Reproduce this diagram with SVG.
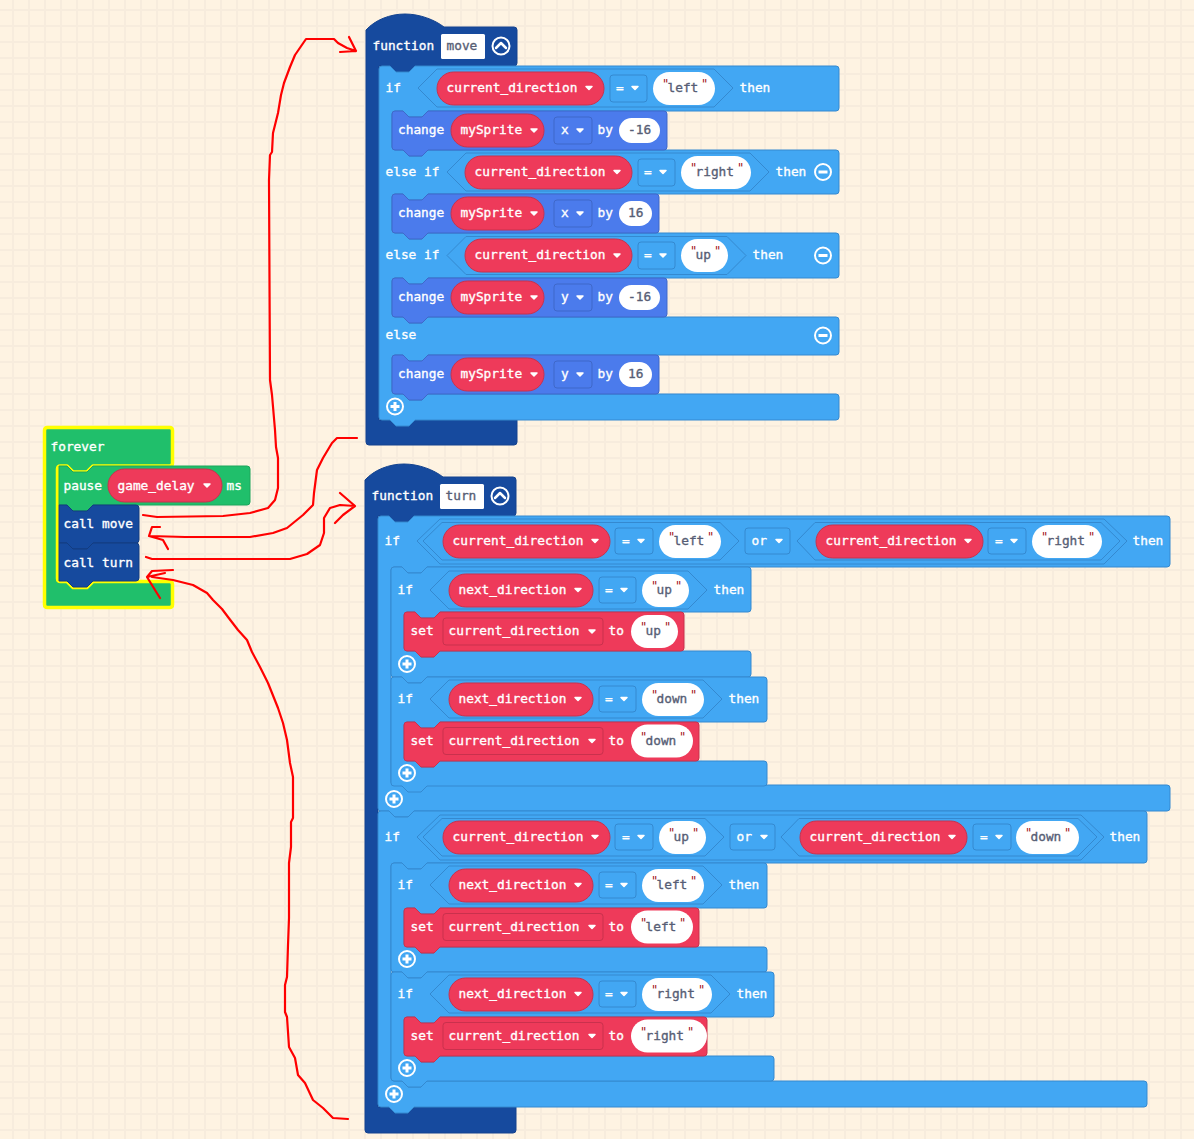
<svg xmlns="http://www.w3.org/2000/svg" width="1194" height="1139" viewBox="0 0 1194 1139">
<defs>
<pattern id="grid" patternUnits="userSpaceOnUse" width="16" height="16"><rect x="12" width="2" height="16" fill="#f7ecdd"/><rect y="9" width="16" height="2" fill="#f7ecdd"/></pattern>
<path id="c" d="M1-2h6l-3 3z" fill="#fff" stroke="#fff" stroke-width="1.500" stroke-linejoin="round"/>
<g id="plus"><circle r="8" fill="none" stroke="#fff" stroke-width="2"/><path d="M-4.500 0H4.500M0-4.500V4.500" stroke="#fff" stroke-width="3" fill="none"/></g>
<g id="minus"><circle r="8" fill="none" stroke="#fff" stroke-width="2"/><path d="M-4.500 0H4.500" stroke="#fff" stroke-width="3" fill="none"/></g>
<g id="up"><circle r="8.500" fill="none" stroke="#fff" stroke-width="2"/><path d="M-5 2L0-3L5 2" stroke="#fff" stroke-width="2.500" fill="none" stroke-linecap="round" stroke-linejoin="round"/></g>
</defs>
<style>
text{font-family:"DejaVu Sans Mono","Liberation Mono",monospace;font-weight:400;font-size:12.8px;fill:#fff;stroke:#fff;stroke-width:.35px;white-space:pre}
text.g{fill:#575e75;stroke:#575e75}
tspan.q{fill:#a31515;stroke:none;font-size:12px}
tspan.t{fill:#575e75;stroke:#575e75}
.fn{fill:#164a9e;stroke:#14438f;stroke-width:1}
.if{fill:#42a7f3;stroke:#3489d0;stroke-width:1}
.chg{fill:#4b7bec;stroke:#3f68c9;stroke-width:1}
.set{fill:#ee3a5a;stroke:#c9314d;stroke-width:1}
.gr{fill:#20bf6b;stroke:#1ca65d;stroke-width:1}
.call{fill:#164a9e;stroke:#123c80;stroke-width:1}
.fv{fill:#20bf6b;stroke:#ffff00;stroke-width:3.500;stroke-linejoin:round}
.v{fill:#ee3a5a;stroke:#c9314d;stroke-width:1}
.s{fill:#fff}
.hx{fill:none;stroke:#3489d0;stroke-width:1}
.di{fill:none;stroke:#3489d0;stroke-width:1}
.dc{fill:none;stroke:#3f68c9;stroke-width:1}
.ds{fill:none;stroke:#c9314d;stroke-width:1}
.red{fill:none;stroke:#ff0000;stroke-width:2.200;stroke-linejoin:round;stroke-linecap:round}
</style>
<rect width="1194" height="1139" fill="#fef3e2"/>
<rect width="1194" height="1139" fill="url(#grid)"/>

<g id="forever">
<path class="fv" d="M44.500 430.500q0-3 3-3H169.500q3 0 3 3V463q0 3-3 3H93l-6 6h-14l-6-6H60.500q-3 0-3 3V578.500q0 3 3 3H67l6 6h14l6-6h76.500q3 0 3 3V604.500q0 3-3 3H47.500q-3 0-3-3Z"/>
<text x="50.500" y="451">forever</text>
</g>
<g id="pause">
<path class="gr" d="M59 466H67l6 6h14l6-6H247q3 0 3 3V502q0 3-3 3H93l-6 6h-14l-6-6H59Z"/>
<text x="63.500" y="490">pause</text>
<rect class="v" x="108" y="469" width="114" height="33" rx="16.500"/>
<text x="117.500" y="490">game_delay</text><use href="#c" x="203" y="486"/>
<text x="226.500" y="490">ms</text>
</g>
<g id="call-move">
<path class="call" d="M59 505H67l6 6h14l6-6H136q3 0 3 3V540q0 3-3 3H93l-6 6h-14l-6-6H59Z"/>
<text x="63.500" y="528">call move</text>
</g>
<g id="call-turn">
<path class="call" d="M59 543H67l6 6h14l6-6H136q3 0 3 3V578q0 3-3 3H93l-6 6h-14l-6-6H59Z"/>
<text x="63.500" y="567">call turn</text>
</g>

<g id="function-move">
<path class="fn" d="M366 30C375 20 390 14 405 14C420 14 435 20 444 27H514q3 0 3 3V63q0 3-3 3H415l-6 6h-13l-6-6H379V420H517V442q0 3-3 3H369q-3 0-3-3Z"/>
<text x="372.500" y="50">function</text>
<rect x="441" y="34" width="44" height="25" rx="1.500" fill="#fff"/>
<text class="g" x="446.500" y="50">move</text>
<use href="#up" x="501" y="46"/>
</g>
<g id="if-move">
<path class="if" d="M379 69q0-3 3-3h8l6 6h13l6-6H836q3 0 3 3V108q0 3-3 3H428l-6 6h-13l-6-6H395q-3 0-3 3V147q0 3 3 3H403l6 6h13l6-6H836q3 0 3 3V191q0 3-3 3H428l-6 6h-13l-6-6H395q-3 0-3 3V230q0 3 3 3H403l6 6h13l6-6H836q3 0 3 3V275q0 3-3 3H428l-6 6h-13l-6-6H395q-3 0-3 3V314q0 3 3 3H403l6 6h13l6-6H836q3 0 3 3V352q0 3-3 3H428l-6 6h-13l-6-6H395q-3 0-3 3V391q0 3 3 3H403l6 6h13l6-6H836q3 0 3 3V417q0 3-3 3H415l-6 6h-13l-6-6H382q-3 0-3-3Z"/>
<text x="385.500" y="92">if</text>
<path class="hx" d="M418 88L437 69H714L733 88L714 107H437Z"/>
<rect class="v" x="437" y="72" width="167" height="33" rx="16.500"/><text x="446.500" y="92">current_direction</text><use href="#c" x="585" y="88.500"/>
<rect class="di" x="610" y="75" width="37" height="27" rx="3"/><text x="616" y="92">=</text><use href="#c" x="631" y="88.500"/>
<rect class="s" x="653" y="72" width="62" height="33" rx="16.500"/><text><tspan class="q" x="662" y="88">"</tspan><tspan class="t" x="667.500" y="92">left</tspan><tspan class="q" x="701" y="88">"</tspan></text>
<text x="739.500" y="92">then</text>
<text x="385.500" y="176">else if</text>
<path class="hx" d="M447 172L466 153H750L769 172L750 191H466Z"/>
<rect class="v" x="465" y="156" width="167" height="33" rx="16.500"/><text x="474.500" y="176">current_direction</text><use href="#c" x="613" y="172.500"/>
<rect class="di" x="638" y="159" width="37" height="27" rx="3"/><text x="644" y="176">=</text><use href="#c" x="659" y="172.500"/>
<rect class="s" x="681" y="156" width="70" height="33" rx="16.500"/><text><tspan class="q" x="690" y="172">"</tspan><tspan class="t" x="695.500" y="176">right</tspan><tspan class="q" x="737" y="172">"</tspan></text>
<text x="775.500" y="176">then</text><use href="#minus" x="823" y="172"/>
<text x="385.500" y="259">else if</text>
<path class="hx" d="M447 255.500L466 236.500H727L746 255.500L727 274.500H466Z"/>
<rect class="v" x="465" y="239" width="167" height="33" rx="16.500"/><text x="474.500" y="259">current_direction</text><use href="#c" x="613" y="256"/>
<rect class="di" x="638" y="242" width="37" height="27" rx="3"/><text x="644" y="259">=</text><use href="#c" x="659" y="256"/>
<rect class="s" x="681" y="239" width="47" height="33" rx="16.500"/><text><tspan class="q" x="690" y="255">"</tspan><tspan class="t" x="695.500" y="259">up</tspan><tspan class="q" x="714" y="255">"</tspan></text>
<text x="752.500" y="259">then</text><use href="#minus" x="823" y="255.500"/>
<text x="385.500" y="339">else</text><use href="#minus" x="823" y="335.500"/>
<use href="#plus" x="395" y="406.500"/>
</g>
<g id="change-1">
<path class="chg" d="M392 114q0-3 3-3h8l6 6h13l6-6H664q3 0 3 3V147q0 3-3 3H428l-6 6h-13l-6-6H395q-3 0-3-3Z"/>
<text x="398" y="134">change</text>
<rect class="v" x="451" y="114" width="93" height="33" rx="16.500"/><text x="460.500" y="134">mySprite</text><use href="#c" x="530" y="131"/>
<rect class="dc" x="554" y="117" width="38" height="27" rx="3"/><text x="561" y="134">x</text><use href="#c" x="576" y="131"/>
<text x="597.500" y="134">by</text>
<rect class="s" x="619" y="118" width="41" height="25" rx="12.500"/><text class="g" x="628" y="134">-16</text>
</g>
<g id="change-2">
<path class="chg" d="M392 197q0-3 3-3h8l6 6h13l6-6H656q3 0 3 3V230q0 3-3 3H428l-6 6h-13l-6-6H395q-3 0-3-3Z"/>
<text x="398" y="217">change</text>
<rect class="v" x="451" y="197" width="93" height="33" rx="16.500"/><text x="460.500" y="217">mySprite</text><use href="#c" x="530" y="214"/>
<rect class="dc" x="554" y="200" width="38" height="27" rx="3"/><text x="561" y="217">x</text><use href="#c" x="576" y="214"/>
<text x="597.500" y="217">by</text>
<rect class="s" x="619" y="201" width="33" height="25" rx="12.500"/><text class="g" x="628" y="217">16</text>
</g>
<g id="change-3">
<path class="chg" d="M392 281q0-3 3-3h8l6 6h13l6-6H664q3 0 3 3V314q0 3-3 3H428l-6 6h-13l-6-6H395q-3 0-3-3Z"/>
<text x="398" y="301">change</text>
<rect class="v" x="451" y="281" width="93" height="33" rx="16.500"/><text x="460.500" y="301">mySprite</text><use href="#c" x="530" y="298"/>
<rect class="dc" x="554" y="284" width="38" height="27" rx="3"/><text x="561" y="301">y</text><use href="#c" x="576" y="298"/>
<text x="597.500" y="301">by</text>
<rect class="s" x="619" y="285" width="41" height="25" rx="12.500"/><text class="g" x="628" y="301">-16</text>
</g>
<g id="change-4">
<path class="chg" d="M392 358q0-3 3-3h8l6 6h13l6-6H656q3 0 3 3V391q0 3-3 3H428l-6 6h-13l-6-6H395q-3 0-3-3Z"/>
<text x="398" y="378">change</text>
<rect class="v" x="451" y="358" width="93" height="33" rx="16.500"/><text x="460.500" y="378">mySprite</text><use href="#c" x="530" y="375"/>
<rect class="dc" x="554" y="361" width="38" height="27" rx="3"/><text x="561" y="378">y</text><use href="#c" x="576" y="375"/>
<text x="597.500" y="378">by</text>
<rect class="s" x="619" y="362" width="33" height="25" rx="12.500"/><text class="g" x="628" y="378">16</text>
</g>

<g id="function-turn">
<path class="fn" d="M365 480C374 470 389 464 404 464C419 464 434 470 443 477H513q3 0 3 3V513q0 3-3 3H414l-6 6h-13l-6-6H378V1107H516V1130q0 3-3 3H368q-3 0-3-3Z"/>
<text x="371.500" y="500">function</text>
<rect x="440" y="484" width="44" height="25" rx="1.500" fill="#fff"/>
<text class="g" x="445.500" y="500">turn</text>
<use href="#up" x="500" y="496"/>
</g>

<g id="if-lr">
<path class="if" d="M378 519q0-3 3-3h8l6 6h13l6-6H1167q3 0 3 3V564q0 3-3 3H427l-6 6h-13l-6-6H394q-3 0-3 3V782q0 3 3 3H402l6 6h13l6-6H1167q3 0 3 3V808q0 3-3 3H414l-6 6h-13l-6-6H381q-3 0-3-3Z"/>
<text x="384.500" y="545">if</text>
<path class="hx" d="M417 541L440 519H1104L1127 541L1104 564H440Z"/>
<path class="hx" d="M423 541L442 522.500H720L739 541L720 560H442Z"/>
<path class="hx" d="M797 541L815 522.500H1101L1120 541L1101 560H815Z"/>
<rect class="v" x="443" y="525" width="167" height="33" rx="16.500"/><text x="452.500" y="545">current_direction</text><use href="#c" x="591" y="541.500"/>
<rect class="di" x="615" y="528" width="38" height="26" rx="3"/><text x="622" y="545">=</text><use href="#c" x="637" y="541.500"/>
<rect class="s" x="659" y="525" width="62" height="33" rx="16.500"/><text><tspan class="q" x="668" y="541">"</tspan><tspan class="t" x="673.500" y="545">left</tspan><tspan class="q" x="707" y="541">"</tspan></text>
<rect class="di" x="745" y="528" width="45" height="26" rx="3"/><text x="751.500" y="545">or</text><use href="#c" x="775" y="541.500"/>
<rect class="v" x="816" y="525" width="167" height="33" rx="16.500"/><text x="825.500" y="545">current_direction</text><use href="#c" x="964" y="541.500"/>
<rect class="di" x="988" y="528" width="38" height="26" rx="3"/><text x="995" y="545">=</text><use href="#c" x="1010" y="541.500"/>
<rect class="s" x="1032" y="525" width="70" height="33" rx="16.500"/><text><tspan class="q" x="1041" y="541">"</tspan><tspan class="t" x="1046.500" y="545">right</tspan><tspan class="q" x="1088" y="541">"</tspan></text>
<text x="1132.500" y="545">then</text>
<use href="#plus" x="394" y="799"/>
</g>
<g id="if-up">
<path class="if" d="M391 570q0-3 3-3h8l6 6h13l6-6H748q3 0 3 3V609q0 3-3 3H440l-6 6h-13l-6-6H407q-3 0-3 3V648q0 3 3 3H415l6 6h13l6-6H748q3 0 3 3V674q0 3-3 3H427l-6 6h-13l-6-6H394q-3 0-3-3Z"/>
<text x="397.500" y="594">if</text>
<path class="hx" d="M430 590L449 571H688L707 590L688 609H449Z"/>
<rect class="v" x="449" y="574" width="144" height="33" rx="16.500"/><text x="458.500" y="594">next_direction</text><use href="#c" x="574" y="590.500"/>
<rect class="di" x="599" y="577" width="37" height="26" rx="3"/><text x="605" y="594">=</text><use href="#c" x="620" y="590.500"/>
<rect class="s" x="642" y="574" width="47" height="33" rx="16.500"/><text><tspan class="q" x="651" y="590">"</tspan><tspan class="t" x="656.500" y="594">up</tspan><tspan class="q" x="675" y="590">"</tspan></text>
<text x="713.500" y="594">then</text>
<use href="#plus" x="407" y="664"/>
</g>
<g id="set-up">
<path class="set" d="M404 615q0-3 3-3h8l6 6h13l6-6H681q3 0 3 3V648q0 3-3 3H440l-6 6h-13l-6-6H407q-3 0-3-3Z"/>
<text x="410.500" y="635">set</text>
<rect class="ds" x="443" y="618" width="160" height="27" rx="3"/><text x="448.500" y="635">current_direction</text><use href="#c" x="588" y="632"/>
<text x="608.500" y="635">to</text>
<rect class="s" x="631" y="615" width="47" height="33" rx="16.500"/><text><tspan class="q" x="640" y="631">"</tspan><tspan class="t" x="645.500" y="635">up</tspan><tspan class="q" x="664" y="631">"</tspan></text>
</g>
<g id="if-down">
<path class="if" d="M391 680q0-3 3-3h8l6 6h13l6-6H764q3 0 3 3V719q0 3-3 3H440l-6 6h-13l-6-6H407q-3 0-3 3V758q0 3 3 3H415l6 6h13l6-6H764q3 0 3 3V783q0 3-3 3H427l-6 6h-13l-6-6H394q-3 0-3-3Z"/>
<text x="397.500" y="703">if</text>
<path class="hx" d="M430 699L449 680H703L722 699L703 718H449Z"/>
<rect class="v" x="449" y="683" width="144" height="33" rx="16.500"/><text x="458.500" y="703">next_direction</text><use href="#c" x="574" y="699.500"/>
<rect class="di" x="599" y="686" width="37" height="26" rx="3"/><text x="605" y="703">=</text><use href="#c" x="620" y="699.500"/>
<rect class="s" x="642" y="683" width="62" height="33" rx="16.500"/><text><tspan class="q" x="651" y="699">"</tspan><tspan class="t" x="656.500" y="703">down</tspan><tspan class="q" x="690" y="699">"</tspan></text>
<text x="728.500" y="703">then</text>
<use href="#plus" x="407" y="773"/>
</g>
<g id="set-down">
<path class="set" d="M404 725q0-3 3-3h8l6 6h13l6-6H696q3 0 3 3V758q0 3-3 3H440l-6 6h-13l-6-6H407q-3 0-3-3Z"/>
<text x="410.500" y="745">set</text>
<rect class="ds" x="443" y="727.500" width="160" height="27" rx="3"/><text x="448.500" y="745">current_direction</text><use href="#c" x="588" y="741.500"/>
<text x="608.500" y="745">to</text>
<rect class="s" x="631" y="724.500" width="62" height="33" rx="16.500"/><text><tspan class="q" x="640" y="741">"</tspan><tspan class="t" x="645.500" y="745">down</tspan><tspan class="q" x="679" y="741">"</tspan></text>
</g>

<g id="if-ud">
<path class="if" d="M378 814q0-3 3-3h8l6 6h13l6-6H1144q3 0 3 3V860q0 3-3 3H427l-6 6h-13l-6-6H394q-3 0-3 3V1078q0 3 3 3H402l6 6h13l6-6H1144q3 0 3 3V1104q0 3-3 3H414l-6 6h-13l-6-6H381q-3 0-3-3Z"/>
<text x="384.500" y="841">if</text>
<path class="hx" d="M417 837L440 815H1081L1104 837L1081 860H440Z"/>
<path class="hx" d="M423 837L442 818.500H705L724 837L705 856H442Z"/>
<path class="hx" d="M781 837L799 818.500H1078L1097 837L1078 856H799Z"/>
<rect class="v" x="443" y="821" width="167" height="33" rx="16.500"/><text x="452.500" y="841">current_direction</text><use href="#c" x="591" y="837.500"/>
<rect class="di" x="615" y="824" width="38" height="26" rx="3"/><text x="622" y="841">=</text><use href="#c" x="637" y="837.500"/>
<rect class="s" x="659" y="821" width="47" height="33" rx="16.500"/><text><tspan class="q" x="668" y="837">"</tspan><tspan class="t" x="673.500" y="841">up</tspan><tspan class="q" x="692" y="837">"</tspan></text>
<rect class="di" x="730" y="824" width="45" height="26" rx="3"/><text x="736.500" y="841">or</text><use href="#c" x="760" y="837.500"/>
<rect class="v" x="800" y="821" width="167" height="33" rx="16.500"/><text x="809.500" y="841">current_direction</text><use href="#c" x="948" y="837.500"/>
<rect class="di" x="973" y="824" width="38" height="26" rx="3"/><text x="980" y="841">=</text><use href="#c" x="995" y="837.500"/>
<rect class="s" x="1016" y="821" width="63" height="33" rx="16.500"/><text><tspan class="q" x="1025" y="837">"</tspan><tspan class="t" x="1030.500" y="841">down</tspan><tspan class="q" x="1064" y="837">"</tspan></text>
<text x="1109.500" y="841">then</text>
<use href="#plus" x="394" y="1094"/>
</g>
<g id="if-left">
<path class="if" d="M391 866q0-3 3-3h8l6 6h13l6-6H764q3 0 3 3V905q0 3-3 3H440l-6 6h-13l-6-6H407q-3 0-3 3V944q0 3 3 3H415l6 6h13l6-6H764q3 0 3 3V969q0 3-3 3H427l-6 6h-13l-6-6H394q-3 0-3-3Z"/>
<text x="397.500" y="889">if</text>
<path class="hx" d="M430 885L449 866H703L722 885L703 904H449Z"/>
<rect class="v" x="449" y="869" width="144" height="33" rx="16.500"/><text x="458.500" y="889">next_direction</text><use href="#c" x="574" y="885.500"/>
<rect class="di" x="599" y="872" width="37" height="26" rx="3"/><text x="605" y="889">=</text><use href="#c" x="620" y="885.500"/>
<rect class="s" x="642" y="869" width="62" height="33" rx="16.500"/><text><tspan class="q" x="651" y="885">"</tspan><tspan class="t" x="656.500" y="889">left</tspan><tspan class="q" x="690" y="885">"</tspan></text>
<text x="728.500" y="889">then</text>
<use href="#plus" x="407" y="959"/>
</g>
<g id="set-left">
<path class="set" d="M404 911q0-3 3-3h8l6 6h13l6-6H696q3 0 3 3V944q0 3-3 3H440l-6 6h-13l-6-6H407q-3 0-3-3Z"/>
<text x="410.500" y="931">set</text>
<rect class="ds" x="443" y="913.500" width="160" height="27" rx="3"/><text x="448.500" y="931">current_direction</text><use href="#c" x="588" y="927.500"/>
<text x="608.500" y="931">to</text>
<rect class="s" x="631" y="910.500" width="62" height="33" rx="16.500"/><text><tspan class="q" x="640" y="927">"</tspan><tspan class="t" x="645.500" y="931">left</tspan><tspan class="q" x="679" y="927">"</tspan></text>
</g>
<g id="if-right">
<path class="if" d="M391 975q0-3 3-3h8l6 6h13l6-6H771q3 0 3 3V1014q0 3-3 3H440l-6 6h-13l-6-6H407q-3 0-3 3V1053q0 3 3 3H415l6 6h13l6-6H771q3 0 3 3V1078q0 3-3 3H427l-6 6h-13l-6-6H394q-3 0-3-3Z"/>
<text x="397.500" y="998">if</text>
<path class="hx" d="M430 994L449 975H711L730 994L711 1013H449Z"/>
<rect class="v" x="449" y="978" width="144" height="33" rx="16.500"/><text x="458.500" y="998">next_direction</text><use href="#c" x="574" y="994.500"/>
<rect class="di" x="599" y="981" width="37" height="26" rx="3"/><text x="605" y="998">=</text><use href="#c" x="620" y="994.500"/>
<rect class="s" x="642" y="978" width="70" height="33" rx="16.500"/><text><tspan class="q" x="651" y="994">"</tspan><tspan class="t" x="656.500" y="998">right</tspan><tspan class="q" x="698" y="994">"</tspan></text>
<text x="736.500" y="998">then</text>
<use href="#plus" x="407" y="1068"/>
</g>
<g id="set-right">
<path class="set" d="M404 1020q0-3 3-3h8l6 6h13l6-6H704q3 0 3 3V1053q0 3-3 3H440l-6 6h-13l-6-6H407q-3 0-3-3Z"/>
<text x="410.500" y="1040">set</text>
<rect class="ds" x="443" y="1022.500" width="160" height="27" rx="3"/><text x="448.500" y="1040">current_direction</text><use href="#c" x="588" y="1036.500"/>
<text x="608.500" y="1040">to</text>
<rect class="s" x="631" y="1019.500" width="76" height="33" rx="16.500"/><text><tspan class="q" x="640" y="1036">"</tspan><tspan class="t" x="645.500" y="1040">right</tspan><tspan class="q" x="687" y="1036">"</tspan></text>
</g>

<g id="connectors">
<path class="red" d="M143 515L157 517L223 516L250 513L268 508L275 500L278 488L278 458L276 447L275 430L272 395L270 380L269 180L270 155L272 152L273 133L276 121L278 113L281 95L284 83L290 67L295 55L306 39H334L338 43L347 48L356 51M349 37L356 51L340 52"/>
<path class="red" d="M357 438H337L332 443L323 458L317 470L314 493L313 505L303 515L287 528L273 533L250 537H185L150 536M160 527L152 527L149 536L163 540L168 549"/>
<path class="red" d="M146 557L152 559H290L307 554L320 545L324 533V518L330 508L340 505L355 506M340 493L355 506L343 515L335 523"/>
<path class="red" d="M173 570L152 571L147 577L155 590L160 598M147 577L165 573M152 577L173 580L193 585L207 593L213 600L222 609L228 617L238 630L247 640L252 652L260 667L268 683L272 693L278 708L283 723L287 740L290 763L293 777V818L291 822V847L289 863V918L288 945L287 977L285 985V1012L287 1017L289 1047L295 1058L298 1075L305 1083L313 1100L323 1108L333 1118L348 1119"/>
</g>
</svg>
